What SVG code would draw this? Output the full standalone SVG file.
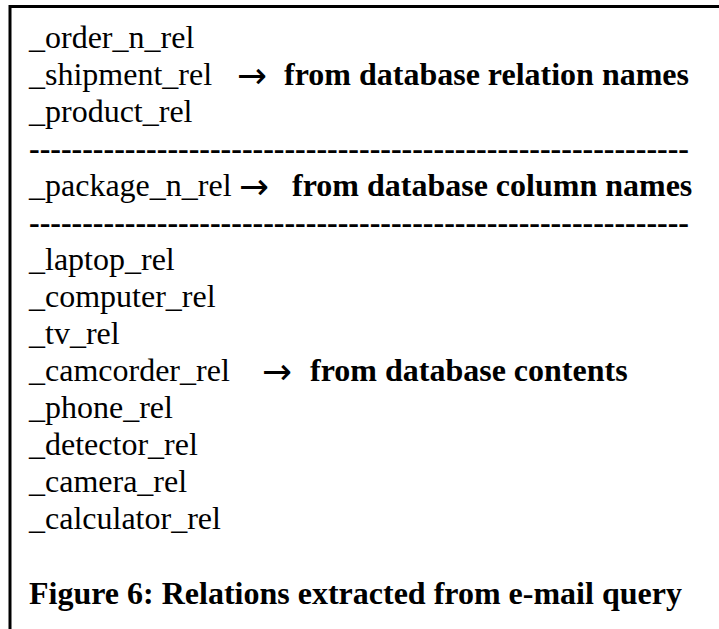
<svg xmlns="http://www.w3.org/2000/svg" width="719" height="629" viewBox="0 0 719 629">
<style>
.t{font-family:"Liberation Serif","Times New Roman",serif;font-size:32px;fill:#000}
.b{font-weight:bold}
.a{font-family:"DejaVu Sans",sans-serif;font-size:36px;fill:#000}
</style>
<rect width="719" height="629" fill="#fff"/>
<g id="frame" stroke="#000" stroke-width="3" fill="none">
<line x1="10" y1="6.5" x2="719" y2="6.5"/>
<line x1="10" y1="5" x2="10" y2="629"/>
</g>
<g id="relation-names">
<text class="t" x="29" y="48">_order_n_rel</text>
<text class="t" x="29" y="85">_shipment_rel</text>
<text class="t" x="29" y="122">_product_rel</text>
<text class="a" x="237" y="88" textLength="30" lengthAdjust="spacingAndGlyphs">→</text>
<text class="t b" x="284" y="85">from database relation names</text>
</g>
<g id="sep1"><text class="t b" x="29" y="159" textLength="660" lengthAdjust="spacing">--------------------------------------------------------------</text></g>
<g id="column-names">
<text class="t" x="29" y="196">_package_n_rel</text>
<text class="a" x="239" y="199" textLength="30" lengthAdjust="spacingAndGlyphs">→</text>
<text class="t b" x="292" y="196">from database column names</text>
</g>
<g id="sep2"><text class="t b" x="29" y="233" textLength="660" lengthAdjust="spacing">--------------------------------------------------------------</text></g>
<g id="contents">
<text class="t" x="29" y="270">_laptop_rel</text>
<text class="t" x="29" y="307">_computer_rel</text>
<text class="t" x="29" y="344">_tv_rel</text>
<text class="t" x="29" y="381">_camcorder_rel</text>
<text class="t" x="29" y="418">_phone_rel</text>
<text class="t" x="29" y="455">_detector_rel</text>
<text class="t" x="29" y="492">_camera_rel</text>
<text class="t" x="29" y="529">_calculator_rel</text>
<text class="a" x="262" y="384" textLength="30" lengthAdjust="spacingAndGlyphs">→</text>
<text class="t b" x="310" y="381">from database contents</text>
</g>
<g id="caption"><text class="t b" x="29" y="604">Figure 6: Relations extracted from e-mail query</text></g>
</svg>
